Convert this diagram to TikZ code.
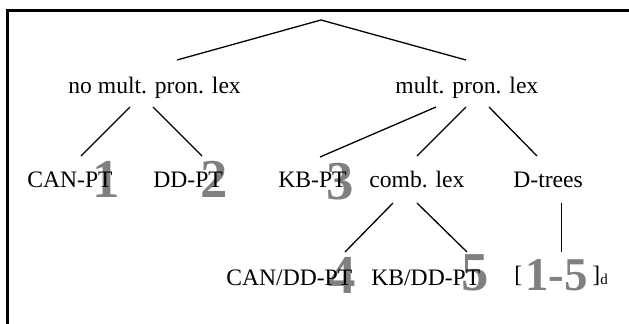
\documentclass[tikz,border=0pt]{standalone}
\usepackage{fontspec}
\setmainfont{Liberation Serif}
\begin{document}
\begin{tikzpicture}[x=0.5pt,y=-0.5pt,
  lbl/.style={anchor=base west,inner sep=0pt,font=\fontsize{11.8}{14}\selectfont},
  num/.style={anchor=base,inner sep=0pt,text=black!50,font=\fontsize{27.4}{30}\selectfont\bfseries},
  edge/.style={line width=0.65pt},
  border/.style={line width=1.5pt}]
\useasboundingbox (0,0) rectangle (629,323);
\clip (0,0) rectangle (629,323);
% frame
\coordinate (fb) at (7.3,330);
\coordinate (fc) at (7.3,10);
\coordinate (fr) at (640,10);
\draw[border] (fb) -- (fc) -- (fr);
% gray numbers (behind text)
\node[num] (n1) at (106.5,197) {1};
\node[num] (n2) at (214.5,197) {2};
\node[num] (n3) at (340,199) {3};
\node[num] (n4) at (342.5,293) {4};
\node[num] (n5) at (475,290) {5};
\node[num,font=\fontsize{23.5}{26}\selectfont\bfseries] (n15) at (556.5,290) {1-5};
% labels
\node[lbl] (nomult) at (68,93) {no mult. pron. lex};
\node[lbl] (mult) at (395,93) {mult. pron. lex};
\node[lbl] (canpt) at (27,187) {CAN-PT};
\node[lbl] (ddpt) at (153,187) {DD-PT};
\node[lbl] (kbpt) at (278,187) {KB-PT};
\node[lbl] (comb) at (369,187) {comb. lex};
\node[lbl] (dtrees) at (513,187) {D-trees};
\node[lbl] (candd) at (226,285) {CAN/DD-PT};
\node[lbl] (kbdd) at (371,285) {KB/DD-PT};
\node[lbl] (lb) at (514,282) {[};
\node[lbl] (rb) at (592,282) {]};
\node[lbl,font=\fontsize{7.5}{9}\selectfont] (sub) at (600,284.5) {d};
% connector end points
\coordinate (root) at (321,20);
\coordinate (nomultT) at (177,60);
\coordinate (multT) at (466,60);
\coordinate (nomultL) at (130,107);
\coordinate (nomultR) at (153,107);
\coordinate (canptT) at (81,156);
\coordinate (ddptT) at (202,156);
\coordinate (multL) at (436,107);
\coordinate (multM) at (466,107);
\coordinate (multR) at (489,107);
\coordinate (kbptT) at (320,157);
\coordinate (combT) at (417,156);
\coordinate (dtreesT) at (537,156);
\coordinate (combL) at (393,203);
\coordinate (combR) at (417,203);
\coordinate (canddT) at (345,252);
\coordinate (kbddT) at (467,252);
\coordinate (dtreesB) at (561.5,203);
\coordinate (n15T) at (561.5,252);
% connectors
\draw[edge] (nomultT) -- (root) -- (multT);
\draw[edge] (nomultL) -- (canptT);
\draw[edge] (nomultR) -- (ddptT);
\draw[edge] (multL) -- (kbptT);
\draw[edge] (multM) -- (combT);
\draw[edge] (multR) -- (dtreesT);
\draw[edge] (combL) -- (canddT);
\draw[edge] (combR) -- (kbddT);
\draw[edge] (dtreesB) -- (n15T);
\end{tikzpicture}
\end{document}
